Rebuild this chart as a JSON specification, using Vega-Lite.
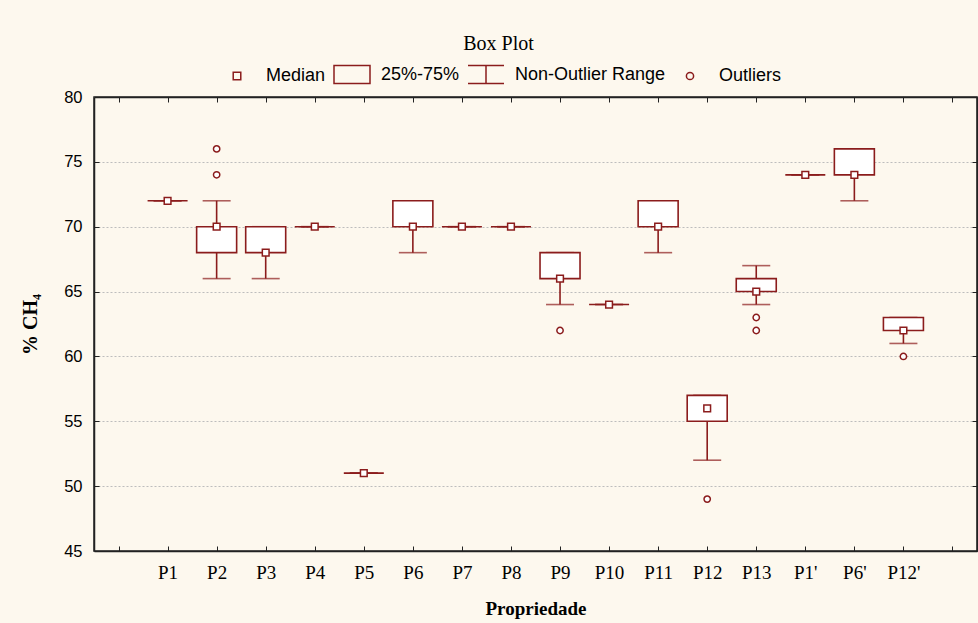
{
  "$schema": "https://vega.github.io/schema/vega-lite/v6.json",
  "width": 883,
  "height": 454,
  "autosize": {"type": "none"},
  "padding": {"left": 94, "top": 97, "right": 1, "bottom": 72},
  "background": "#FDF8EE",
  "title": {"text": "Box Plot", "font": "Liberation Serif", "fontSize": 20, "fontWeight": "normal", "color": "#000000", "anchor": "middle", "dx": -37, "offset": 2},
  "config": {
    "view": {"fill": "white", "stroke": "#222222", "strokeWidth": 1.5},
    "axis": {"domainColor": "#222222", "tickColor": "#222222", "domainWidth": 1.5, "labelColor": "#000000", "titleColor": "#000000"}
  },
  "datasets": {
    "boxes": [
      {"prop": "P1", "lo": 72, "q1": 72, "med": 72, "q3": 72, "hi": 72},
      {"prop": "P2", "lo": 66, "q1": 68, "med": 70, "q3": 70, "hi": 72},
      {"prop": "P3", "lo": 66, "q1": 68, "med": 68, "q3": 70, "hi": 70},
      {"prop": "P4", "lo": 70, "q1": 70, "med": 70, "q3": 70, "hi": 70},
      {"prop": "P5", "lo": 51, "q1": 51, "med": 51, "q3": 51, "hi": 51},
      {"prop": "P6", "lo": 68, "q1": 70, "med": 70, "q3": 72, "hi": 72},
      {"prop": "P7", "lo": 70, "q1": 70, "med": 70, "q3": 70, "hi": 70},
      {"prop": "P8", "lo": 70, "q1": 70, "med": 70, "q3": 70, "hi": 70},
      {"prop": "P9", "lo": 64, "q1": 66, "med": 66, "q3": 68, "hi": 68},
      {"prop": "P10", "lo": 64, "q1": 64, "med": 64, "q3": 64, "hi": 64},
      {"prop": "P11", "lo": 68, "q1": 70, "med": 70, "q3": 72, "hi": 72},
      {"prop": "P12", "lo": 52, "q1": 55, "med": 56, "q3": 57, "hi": 57},
      {"prop": "P13", "lo": 64, "q1": 65, "med": 65, "q3": 66, "hi": 67},
      {"prop": "P1'", "lo": 74, "q1": 74, "med": 74, "q3": 74, "hi": 74},
      {"prop": "P6'", "lo": 72, "q1": 74, "med": 74, "q3": 76, "hi": 76},
      {"prop": "P12'", "lo": 61, "q1": 62, "med": 62, "q3": 63, "hi": 63}
    ],
    "outliers": [
      {"prop": "P2", "value": 74},
      {"prop": "P2", "value": 76},
      {"prop": "P9", "value": 62},
      {"prop": "P12", "value": 49},
      {"prop": "P13", "value": 63},
      {"prop": "P13", "value": 62},
      {"prop": "P12'", "value": 60}
    ],
    "legendItems": [
      {"item": "Median"},
      {"item": "25%-75%"},
      {"item": "Non-Outlier Range"},
      {"item": "Outliers"}
    ]
  },
  "resolve": {"axis": {"x": "independent", "y": "independent"}},
  "layer": [
    {
      "data": {"name": "boxes"},
      "mark": {"type": "rule", "color": "#8B1C1C", "strokeWidth": 1.6},
      "encoding": {
        "x": {
          "field": "prop", "type": "ordinal",
          "scale": {"type": "point", "padding": 0.5, "domain": [" ", "P1", "P2", "P3", "P4", "P5", "P6", "P7", "P8", "P9", "P10", "P11", "P12", "P13", "P1'", "P6'", "P12'", "  "]},
          "axis": {"orient": "bottom", "title": "Propriedade", "titleFont": "Liberation Serif", "titleFontSize": 19, "titleFontWeight": "bold", "titlePadding": 17, "labelFont": "Liberation Serif", "labelFontSize": 19, "labelAngle": 0, "labelPadding": 17, "tickSize": -5, "grid": false}
        },
        "y": {
          "field": "lo", "type": "quantitative",
          "scale": {"domain": [45, 80], "nice": false, "zero": false},
          "axis": {"orient": "left", "title": "% CH₄", "titleFont": "Liberation Serif", "titleFontSize": 20, "titleFontWeight": "bold", "titlePadding": 23, "labelFont": "Liberation Sans", "labelFontSize": 16.5, "labelPadding": 17, "values": [45, 50, 55, 60, 65, 70, 75, 80], "tickSize": -5, "grid": true, "gridColor": "#bdbdbd", "gridDash": [2, 2], "gridWidth": 1}
        },
        "y2": {"field": "hi"}
      }
    },
    {
      "data": {"name": "boxes"},
      "mark": {"type": "tick", "orient": "horizontal", "color": "#8B1C1C", "size": 28, "thickness": 1.6},
      "encoding": {
        "x": {"field": "prop", "type": "ordinal", "axis": {"orient": "top", "labels": false, "title": null, "tickSize": -5, "grid": false}},
        "y": {"field": "lo", "type": "quantitative", "axis": {"orient": "right", "labels": false, "title": null, "values": [45, 50, 55, 60, 65, 70, 75, 80], "tickSize": -5, "grid": false}}
      }
    },
    {
      "data": {"name": "boxes"},
      "mark": {"type": "tick", "orient": "horizontal", "color": "#8B1C1C", "size": 28, "thickness": 1.6},
      "encoding": {
        "x": {"field": "prop", "type": "ordinal", "axis": null},
        "y": {"field": "hi", "type": "quantitative", "axis": null}
      }
    },
    {
      "data": {"name": "boxes"},
      "mark": {"type": "bar", "size": 40, "fill": "white", "stroke": "#8B1C1C", "strokeWidth": 1.6},
      "encoding": {
        "x": {"field": "prop", "type": "ordinal", "axis": null},
        "y": {"field": "q1", "type": "quantitative", "axis": null},
        "y2": {"field": "q3"}
      }
    },
    {
      "data": {"name": "boxes"},
      "mark": {"type": "point", "shape": "square", "size": 45, "filled": true, "fill": "white", "stroke": "#8B1C1C", "strokeWidth": 1.5, "opacity": 1},
      "encoding": {
        "x": {"field": "prop", "type": "ordinal", "axis": null},
        "y": {"field": "med", "type": "quantitative", "axis": null}
      }
    },
    {
      "data": {"name": "outliers"},
      "mark": {"type": "point", "shape": "circle", "size": 40, "filled": true, "fill": "white", "stroke": "#8B1C1C", "strokeWidth": 1.5, "opacity": 1},
      "encoding": {
        "x": {"field": "prop", "type": "ordinal", "axis": null},
        "y": {"field": "value", "type": "quantitative", "axis": null}
      }
    },
    {
      "data": {"name": "legendItems"},
      "mark": {"type": "point", "filled": false, "color": "#8B1C1C", "opacity": 0},
      "encoding": {
        "shape": {
          "field": "item", "type": "nominal",
          "scale": {
            "domain": ["Median", "25%-75%", "Non-Outlier Range", "Outliers"],
            "range": ["M-0.21,-0.21H0.21V0.21H-0.21Z", "M-1,-0.5H1V0.5H-1Z", "M-1,-0.5H1M0,-0.5V0.5M-1,0.5H1", "M-0.2,0A0.2,0.2,0,1,0,0.2,0A0.2,0.2,0,1,0,-0.2,0Z"]
          },
          "legend": {
            "orient": "none", "legendX": 124, "legendY": -41.5, "direction": "horizontal", "columns": 4,
            "title": null, "padding": 0, "columnPadding": 5, "labelOffset": 10,
            "symbolSize": 1296, "symbolStrokeWidth": 1.5, "symbolStrokeColor": "#8B1C1C", "symbolFillColor": "transparent", "symbolOpacity": 1,
            "labelFont": "Liberation Sans", "labelFontSize": 18, "labelColor": "#000000",
            "encode": {"symbols": {"update": {"opacity": {"value": 1}, "stroke": {"value": "#8B1C1C"}, "fill": {"value": "transparent"}}}}
          }
        }
      }
    }
  ]
}
